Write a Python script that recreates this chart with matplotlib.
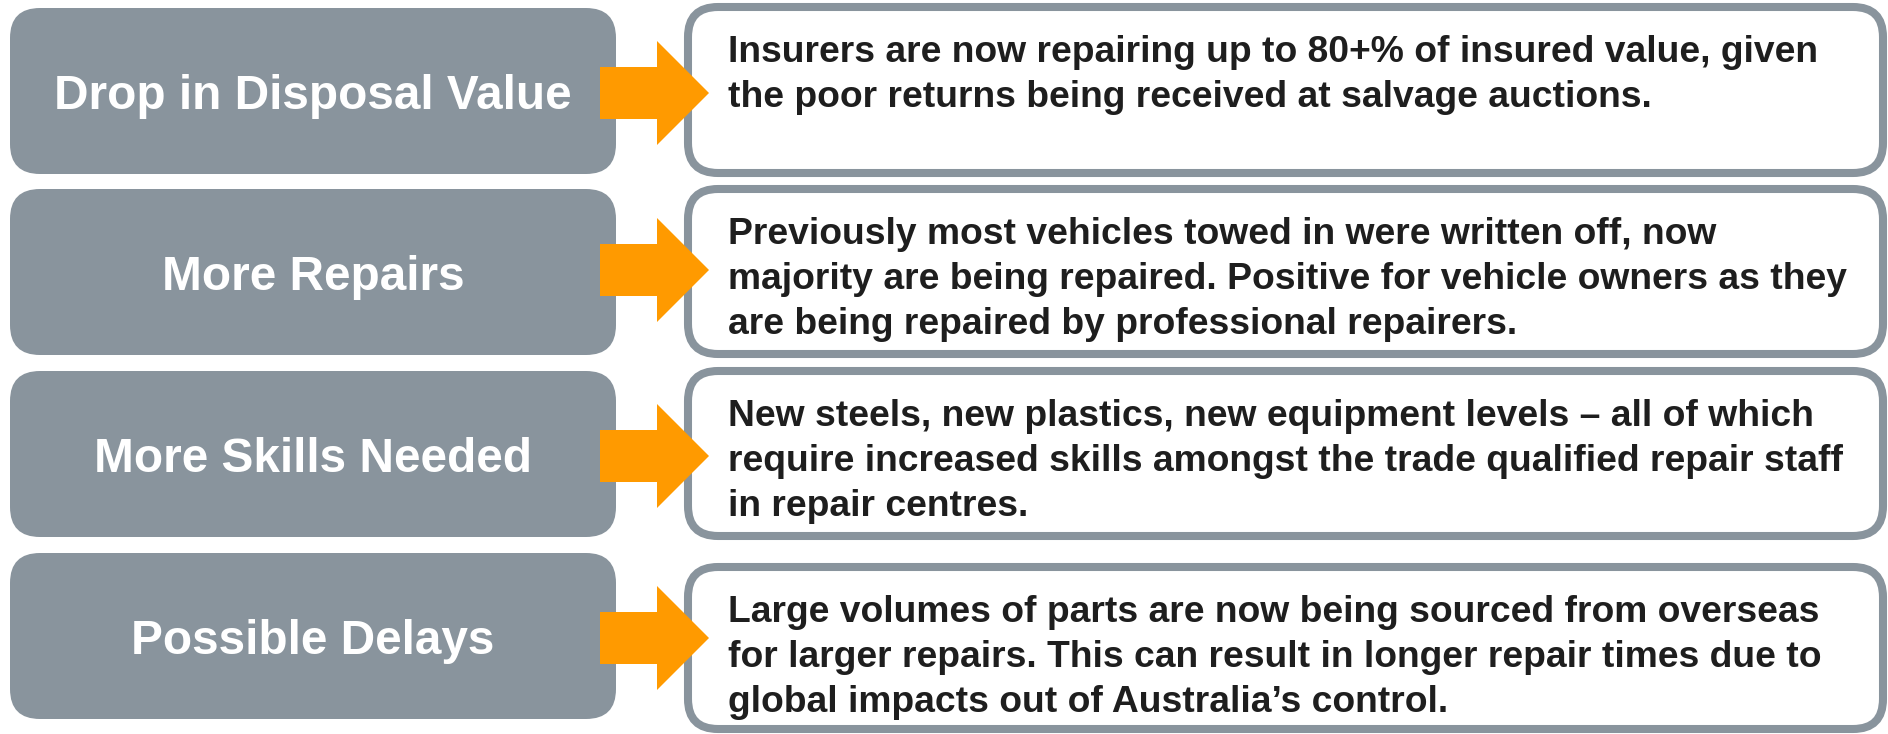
import matplotlib
matplotlib.use("Agg")
import matplotlib.pyplot as plt
from matplotlib.patches import FancyBboxPatch, Polygon

W, H = 1888, 734

GREY = "#89949d"
ORANGE = "#ff9a00"
INK = "#1e1e1e"

labels = ["Drop in Disposal Value", "More Repairs", "More Skills Needed", "Possible Delays"]
notes = [
    ["Insurers are now repairing up to 80+% of insured value, given",
     "the poor returns being received at salvage auctions."],
    ["Previously most vehicles towed in were written off, now",
     "majority are being repaired. Positive for vehicle owners as they",
     "are being repaired by professional repairers."],
    ["New steels, new plastics, new equipment levels \u2013 all of which",
     "require increased skills amongst the trade qualified repair staff",
     "in repair centres."],
    ["Large volumes of parts are now being sourced from overseas",
     "for larger repairs. This can result in longer repair times due to",
     "global impacts out of Australia\u2019s control."],
]

# layout in pixels (y grows downwards)
left_tops = [8, 189, 371, 553]
left_h = 166
right_tops = [3, 185, 367, 563]
right_h = [174, 173, 173, 170]
arrow_mid = [93, 270, 456, 638]

fig = plt.figure(figsize=(W / 100, H / 100), dpi=100)
ax = fig.add_axes([0, 0, 1, 1])
ax.set_xlim(0, W)
ax.set_ylim(H, 0)
ax.axis("off")

for i in range(4):
    top = left_tops[i]
    ax.add_patch(FancyBboxPatch((10, top), 606, left_h,
                                boxstyle="round,pad=0,rounding_size=30",
                                fc=GREY, ec="none", zorder=1))
    ax.text(313, top + left_h / 2 + 18, labels[i], color="white",
            fontsize=34.4, fontweight="bold", family="Liberation Sans",
            ha="center", va="baseline", zorder=4)

    rt = right_tops[i]
    ax.add_patch(FancyBboxPatch((688, rt + 4), 1195, right_h[i] - 8,
                                boxstyle="round,pad=0,rounding_size=30",
                                fc="white", ec=GREY, lw=5.8, zorder=2))
    for j, line in enumerate(notes[i]):
        ax.text(728, rt + 59 + 45 * j, line, color=INK, fontsize=26.8,
                fontweight="bold", family="Liberation Sans",
                ha="left", va="baseline", zorder=4)

    m = arrow_mid[i]
    ax.add_patch(Polygon([(600, m - 26), (657, m - 26), (657, m - 52), (709, m),
                          (657, m + 52), (657, m + 26), (600, m + 26)],
                         closed=True, fc=ORANGE, ec="none", zorder=3))

fig.savefig("out.png", dpi=100)
